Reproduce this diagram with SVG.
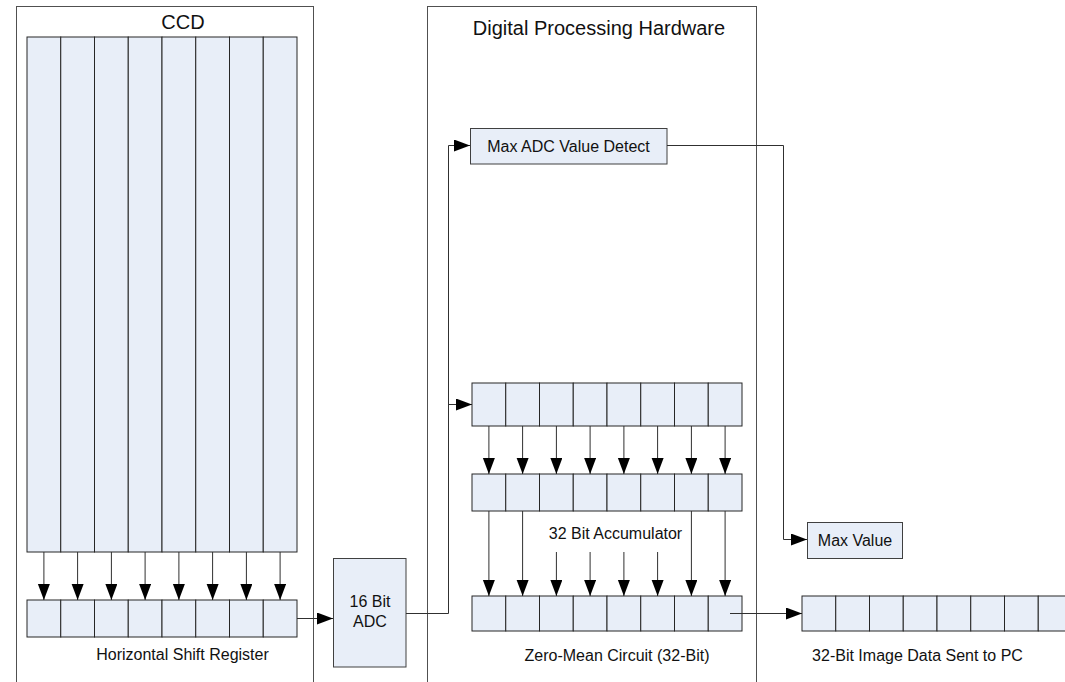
<svg xmlns="http://www.w3.org/2000/svg" width="1065" height="682" viewBox="0 0 1065 682">
<style>
.frame{fill:none;stroke:#505050;stroke-width:1}
.cell{fill:#E8EEF8;stroke:#262626;stroke-width:1}
.box{fill:#E8EEF8;stroke:#404040;stroke-width:1}
.ln{fill:none;stroke:#303030;stroke-width:1}
.t{font-family:"Liberation Sans",Arial,sans-serif;font-size:16px;fill:#111;text-anchor:middle}
.title{font-family:"Liberation Sans",Arial,sans-serif;font-size:20px;fill:#111;text-anchor:middle}
</style>
<defs>
<marker id="ah" markerUnits="userSpaceOnUse" markerWidth="17" markerHeight="13" refX="16" refY="6" orient="auto">
<path d="M0,0 L16,6 L0,12 z" fill="#000"/>
</marker>
</defs>
<rect width="1065" height="682" fill="#fff"/>

<g id="ccd">
<rect class="frame" x="16.5" y="6.5" width="297" height="700"/>
<text class="title" x="183" y="29">CCD</text>
<g id="ccd-columns">
<rect class="cell" x="27" y="37" width="33.75" height="515"/>
<rect class="cell" x="60.75" y="37" width="33.75" height="515"/>
<rect class="cell" x="94.5" y="37" width="33.75" height="515"/>
<rect class="cell" x="128.25" y="37" width="33.75" height="515"/>
<rect class="cell" x="162" y="37" width="33.75" height="515"/>
<rect class="cell" x="195.75" y="37" width="33.75" height="515"/>
<rect class="cell" x="229.5" y="37" width="33.75" height="515"/>
<rect class="cell" x="263.25" y="37" width="33.75" height="515"/>
</g>
<g id="shift-register">
<rect class="cell" x="27" y="600" width="33.75" height="37"/>
<rect class="cell" x="60.75" y="600" width="33.75" height="37"/>
<rect class="cell" x="94.5" y="600" width="33.75" height="37"/>
<rect class="cell" x="128.25" y="600" width="33.75" height="37"/>
<rect class="cell" x="162" y="600" width="33.75" height="37"/>
<rect class="cell" x="195.75" y="600" width="33.75" height="37"/>
<rect class="cell" x="229.5" y="600" width="33.75" height="37"/>
<rect class="cell" x="263.25" y="600" width="33.75" height="37"/>
<text class="t" x="182.5" y="660">Horizontal Shift Register</text>
</g>
</g>

<g id="adc">
<rect class="box" x="333.5" y="558.5" width="72.5" height="108.5"/>
<text class="t" x="370" y="607">16 Bit</text>
<text class="t" x="370" y="627">ADC</text>
</g>

<g id="dph">
<rect class="frame" x="427.5" y="6.5" width="329" height="700"/>
<text class="title" x="599" y="35">Digital Processing Hardware</text>
</g>

<g id="max-detect">
<rect class="box" x="470.5" y="128.5" width="196.5" height="35.5"/>
<text class="t" x="568.5" y="151.5">Max ADC Value Detect</text>
</g>

<g id="register-1">
<rect class="cell" x="472" y="383" width="33.75" height="43"/>
<rect class="cell" x="505.75" y="383" width="33.75" height="43"/>
<rect class="cell" x="539.5" y="383" width="33.75" height="43"/>
<rect class="cell" x="573.25" y="383" width="33.75" height="43"/>
<rect class="cell" x="607" y="383" width="33.75" height="43"/>
<rect class="cell" x="640.75" y="383" width="33.75" height="43"/>
<rect class="cell" x="674.5" y="383" width="33.75" height="43"/>
<rect class="cell" x="708.25" y="383" width="33.75" height="43"/>
</g>

<g id="register-2">
<rect class="cell" x="472" y="474" width="33.75" height="37"/>
<rect class="cell" x="505.75" y="474" width="33.75" height="37"/>
<rect class="cell" x="539.5" y="474" width="33.75" height="37"/>
<rect class="cell" x="573.25" y="474" width="33.75" height="37"/>
<rect class="cell" x="607" y="474" width="33.75" height="37"/>
<rect class="cell" x="640.75" y="474" width="33.75" height="37"/>
<rect class="cell" x="674.5" y="474" width="33.75" height="37"/>
<rect class="cell" x="708.25" y="474" width="33.75" height="37"/>
<text class="t" x="615.5" y="539">32 Bit Accumulator</text>
</g>

<g id="register-3">
<rect class="cell" x="472" y="596" width="33.75" height="35"/>
<rect class="cell" x="505.75" y="596" width="33.75" height="35"/>
<rect class="cell" x="539.5" y="596" width="33.75" height="35"/>
<rect class="cell" x="573.25" y="596" width="33.75" height="35"/>
<rect class="cell" x="607" y="596" width="33.75" height="35"/>
<rect class="cell" x="640.75" y="596" width="33.75" height="35"/>
<rect class="cell" x="674.5" y="596" width="33.75" height="35"/>
<rect class="cell" x="708.25" y="596" width="33.75" height="35"/>
<text class="t" x="617" y="661">Zero-Mean Circuit (32-Bit)</text>
</g>

<g id="max-value">
<rect class="box" x="807.5" y="522.5" width="95" height="36"/>
<text class="t" x="855" y="545.5">Max Value</text>
</g>

<g id="output-register">
<rect class="cell" x="802" y="596" width="33.75" height="35"/>
<rect class="cell" x="835.75" y="596" width="33.75" height="35"/>
<rect class="cell" x="869.5" y="596" width="33.75" height="35"/>
<rect class="cell" x="903.25" y="596" width="33.75" height="35"/>
<rect class="cell" x="937" y="596" width="33.75" height="35"/>
<rect class="cell" x="970.75" y="596" width="33.75" height="35"/>
<rect class="cell" x="1004.5" y="596" width="33.75" height="35"/>
<rect class="cell" x="1038.25" y="596" width="33.75" height="35"/>
<text class="t" x="917.5" y="661">32-Bit Image Data Sent to PC</text>
</g>

<g id="connectors">
<path class="ln" d="M43.9,552 V600" marker-end="url(#ah)"/>
<path class="ln" d="M77.6,552 V600" marker-end="url(#ah)"/>
<path class="ln" d="M111.4,552 V600" marker-end="url(#ah)"/>
<path class="ln" d="M145.1,552 V600" marker-end="url(#ah)"/>
<path class="ln" d="M178.9,552 V600" marker-end="url(#ah)"/>
<path class="ln" d="M212.6,552 V600" marker-end="url(#ah)"/>
<path class="ln" d="M246.4,552 V600" marker-end="url(#ah)"/>
<path class="ln" d="M280.1,552 V600" marker-end="url(#ah)"/>
<path class="ln" d="M297,618.5 H333" marker-end="url(#ah)"/>
<path class="ln" d="M406,613.5 H448.5 V145.5 H470" marker-end="url(#ah)"/>
<path class="ln" d="M448.5,404.5 H472" marker-end="url(#ah)"/>
<path class="ln" d="M488.9,426 V474" marker-end="url(#ah)"/>
<path class="ln" d="M522.6,426 V474" marker-end="url(#ah)"/>
<path class="ln" d="M556.4,426 V474" marker-end="url(#ah)"/>
<path class="ln" d="M590.1,426 V474" marker-end="url(#ah)"/>
<path class="ln" d="M623.9,426 V474" marker-end="url(#ah)"/>
<path class="ln" d="M657.6,426 V474" marker-end="url(#ah)"/>
<path class="ln" d="M691.4,426 V474" marker-end="url(#ah)"/>
<path class="ln" d="M725.1,426 V474" marker-end="url(#ah)"/>
<path class="ln" d="M488.9,511 V596" marker-end="url(#ah)"/>
<path class="ln" d="M522.6,511 V596" marker-end="url(#ah)"/>
<path class="ln" d="M556.4,552 V596" marker-end="url(#ah)"/>
<path class="ln" d="M590.1,552 V596" marker-end="url(#ah)"/>
<path class="ln" d="M623.9,552 V596" marker-end="url(#ah)"/>
<path class="ln" d="M657.6,552 V596" marker-end="url(#ah)"/>
<path class="ln" d="M691.4,511 V596" marker-end="url(#ah)"/>
<path class="ln" d="M725.1,511 V596" marker-end="url(#ah)"/>
<path class="ln" d="M730,613.5 H802" marker-end="url(#ah)"/>
<path class="ln" d="M667,145.5 H783.5 V539.5 H807" marker-end="url(#ah)"/>
</g>
</svg>
